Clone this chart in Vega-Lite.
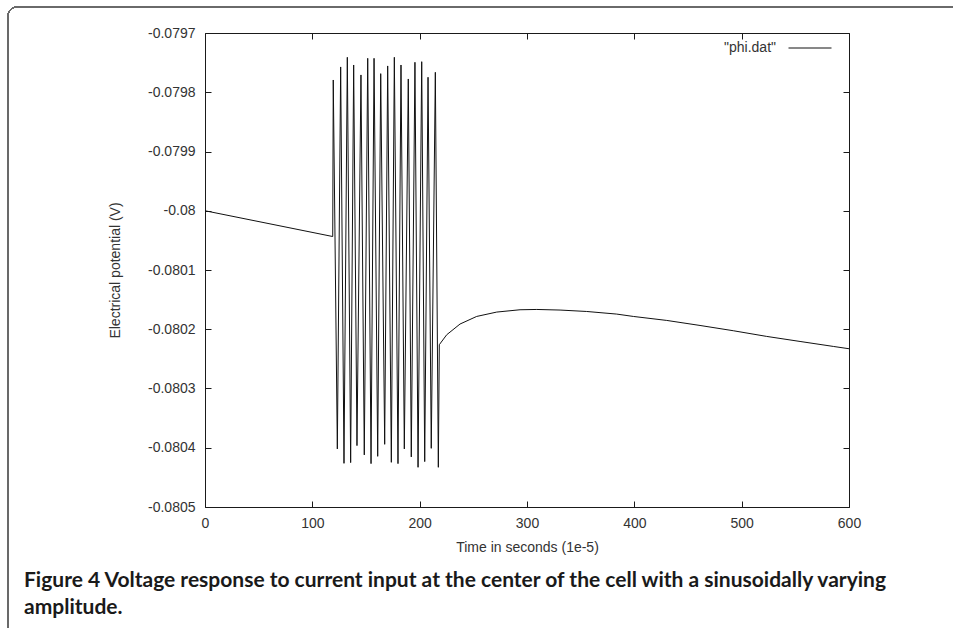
{
  "$schema": "https://vega.github.io/schema/vega-lite/v6.json",
  "width": 644,
  "height": 474,
  "autosize": "none",
  "padding": {"left": 205, "top": 33, "right": 104, "bottom": 121},
  "background": "white",
  "config": {
    "view": {"stroke": "#1a1a1a", "strokeWidth": 1},
    "font": "Liberation Sans",
    "axis": {
      "domain": false,
      "grid": false,
      "tickSize": -6,
      "tickColor": "#1a1a1a",
      "tickWidth": 1,
      "labelFont": "Liberation Sans",
      "labelFontSize": 14,
      "labelColor": "#333333",
      "titleFont": "Liberation Sans",
      "titleFontSize": 14,
      "titleFontWeight": "normal",
      "titleColor": "#333333"
    }
  },
  "title": {
    "text": ["Figure 4 Voltage response to current input at the center of the cell with a sinusoidally varying", "amplitude."],
    "orient": "bottom",
    "anchor": "start",
    "frame": "group",
    "baseline": "top",
    "dx": -181,
    "offset": -68,
    "font": "Lato",
    "fontSize": 21,
    "fontWeight": "bold",
    "color": "#1a1a1a",
    "lineHeight": 27
  },
  "data": {
    "values": [
      {"t": 0, "v": -0.08},
      {"t": 119.0, "v": -0.0800435},
      {"t": 119.5, "v": -0.0797793},
      {"t": 123.3, "v": -0.080402},
      {"t": 126.4, "v": -0.0797573},
      {"t": 129.5, "v": -0.0804263},
      {"t": 132.6, "v": -0.079741},
      {"t": 135.7, "v": -0.0804251},
      {"t": 138.5, "v": -0.079754},
      {"t": 141.6, "v": -0.0803964},
      {"t": 145.3, "v": -0.0797708},
      {"t": 148.4, "v": -0.0804121},
      {"t": 151.6, "v": -0.0797427},
      {"t": 154.7, "v": -0.0804268},
      {"t": 157.5, "v": -0.0797427},
      {"t": 160.9, "v": -0.0804145},
      {"t": 163.7, "v": -0.0797686},
      {"t": 167.4, "v": -0.0803942},
      {"t": 170.2, "v": -0.0797556},
      {"t": 173.6, "v": -0.0804246},
      {"t": 176.4, "v": -0.079741},
      {"t": 179.8, "v": -0.0804268},
      {"t": 182.6, "v": -0.079754},
      {"t": 185.7, "v": -0.080402},
      {"t": 189.4, "v": -0.0797776},
      {"t": 192.2, "v": -0.0804155},
      {"t": 195.6, "v": -0.0797494},
      {"t": 198.5, "v": -0.080433},
      {"t": 201.9, "v": -0.0797484},
      {"t": 204.7, "v": -0.0804234},
      {"t": 207.8, "v": -0.0797747},
      {"t": 210.8, "v": -0.080401},
      {"t": 214.6, "v": -0.0797663},
      {"t": 217.4, "v": -0.080433},
      {"t": 218.3, "v": -0.0802261},
      {"t": 225.2, "v": -0.0802093},
      {"t": 237.6, "v": -0.0801912},
      {"t": 253.1, "v": -0.0801784},
      {"t": 271.8, "v": -0.080171},
      {"t": 293.5, "v": -0.0801671},
      {"t": 309.1, "v": -0.0801666},
      {"t": 330.8, "v": -0.0801676},
      {"t": 355.6, "v": -0.08017},
      {"t": 383.6, "v": -0.0801744},
      {"t": 399.1, "v": -0.0801784},
      {"t": 430.2, "v": -0.0801851},
      {"t": 461.2, "v": -0.0801936},
      {"t": 492.2, "v": -0.0802025},
      {"t": 523.3, "v": -0.0802121},
      {"t": 554.4, "v": -0.0802206},
      {"t": 585.4, "v": -0.080229},
      {"t": 600, "v": -0.0802329}
    ]
  },
  "layer": [
    {
      "mark": {"type": "line", "strokeWidth": 1, "clip": true},
      "encoding": {
        "x": {
          "field": "t", "type": "quantitative",
          "scale": {"domain": [0, 600], "nice": false, "zero": false},
          "axis": {"values": [0, 100, 200, 300, 400, 500, 600], "title": "Time in seconds (1e-5)", "labelPadding": 15, "titlePadding": 10, "labelFlush": false}
        },
        "y": {
          "field": "v", "type": "quantitative",
          "scale": {"domain": [-0.0805, -0.0797], "nice": false, "zero": false},
          "axis": {
            "values": [-0.0805, -0.0804, -0.0803, -0.0802, -0.0801, -0.08, -0.0799, -0.0798, -0.0797],
            "labelExpr": "replace(format(datum.value, '.4~f'), '\u2212', '-')",
            "title": "Electrical potential (V)",
            "labelPadding": 16,
            "titlePadding": 25,
            "labelFlush": false
          }
        },
        "color": {
          "datum": "\"phi.dat\"",
          "type": "nominal",
          "scale": {"range": ["#111111"]},
          "legend": {
            "title": null,
            "orient": "none",
            "legendX": 583,
            "legendY": -7,
            "symbolType": "stroke",
            "symbolSize": 1849,
            "symbolStrokeWidth": 1,
            "labelAlign": "right",
            "labelOffset": -56,
            "labelFont": "Liberation Sans",
            "labelFontSize": 14,
            "labelColor": "#333333"
          }
        }
      }
    },
    {
      "mark": {"type": "rect", "filled": false, "stroke": "#6a6a6a", "strokeWidth": 1, "cornerRadius": 9, "clip": false},
      "encoding": {
        "x": {"datum": -183.5, "type": "quantitative", "axis": {"values": [0, 100, 200, 300, 400, 500, 600], "labels": false, "title": null}},
        "x2": {"datum": 720},
        "y": {"datum": -0.0796562, "type": "quantitative", "axis": {"values": [-0.0805, -0.0804, -0.0803, -0.0802, -0.0801, -0.08, -0.0799, -0.0798, -0.0797], "labels": false, "title": null}},
        "y2": {"datum": -0.08072}
      }
    }
  ],
  "resolve": {"axis": {"x": "independent", "y": "independent"}}
}
